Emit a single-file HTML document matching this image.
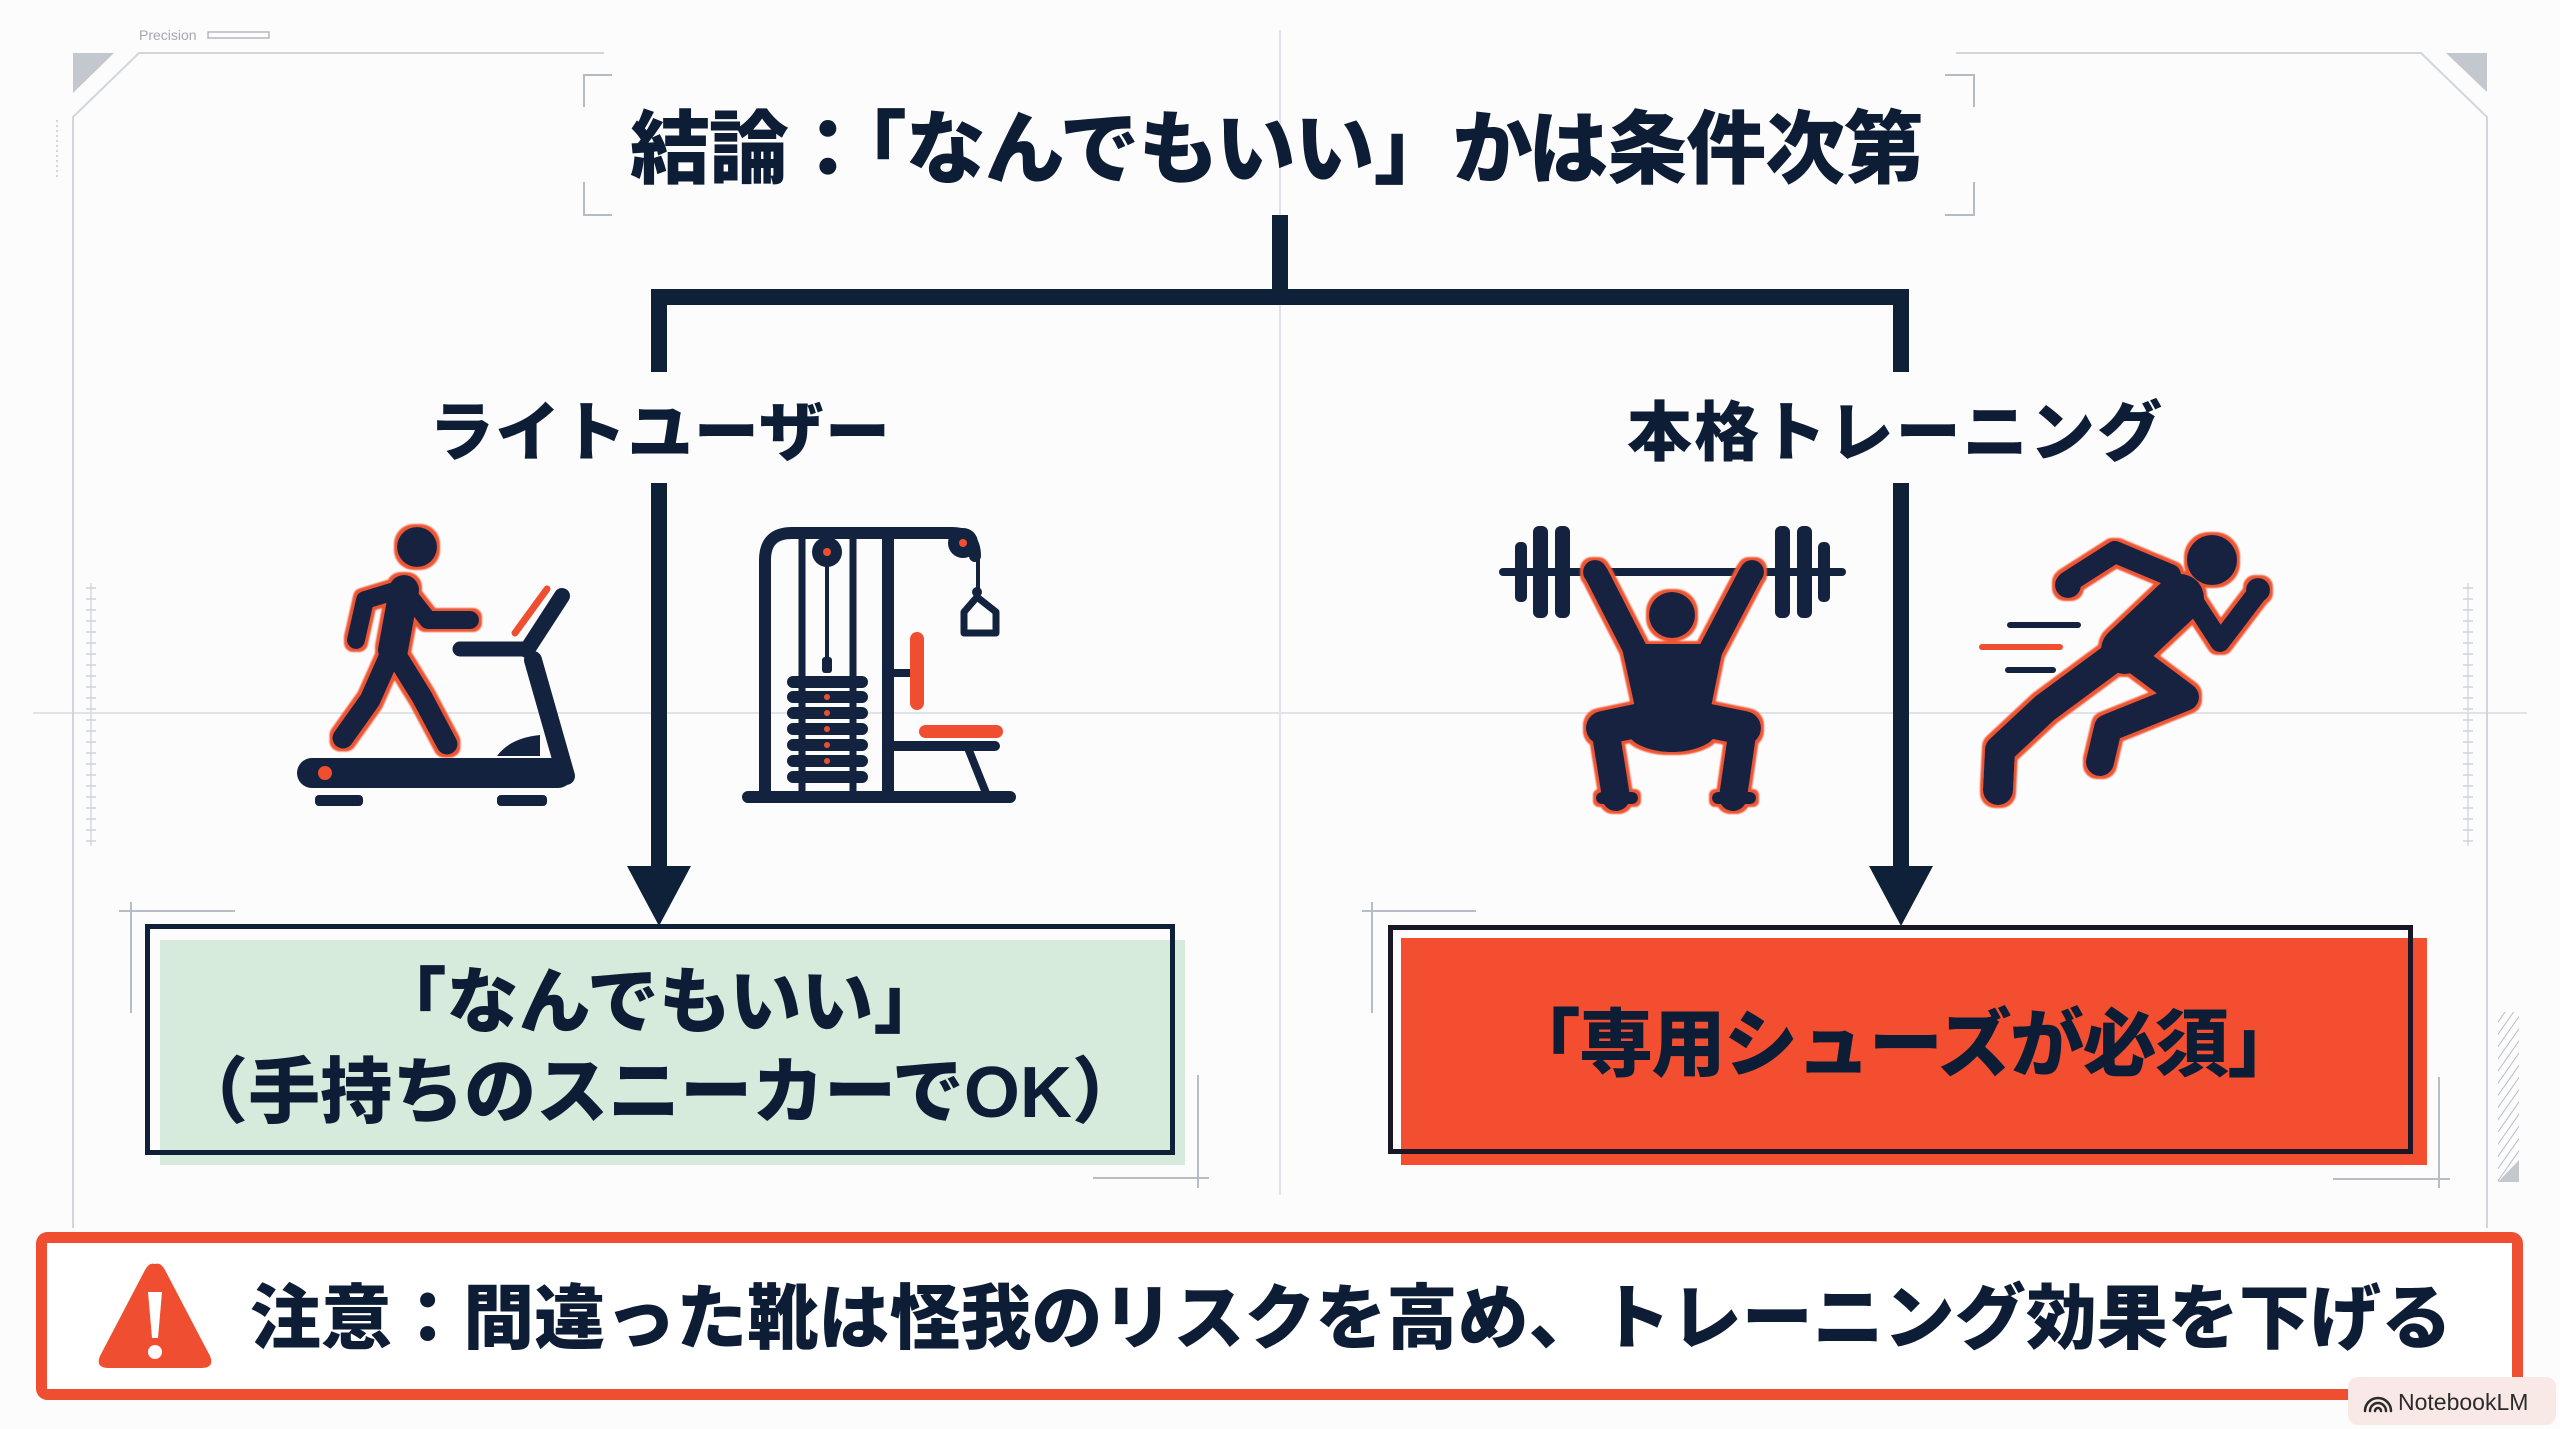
<!DOCTYPE html>
<html><head><meta charset="utf-8"><style>
html,body{margin:0;padding:0;background:#fcfcfc;}
svg{display:block;}
text{font-family:"Liberation Sans","Noto Sans CJK JP",sans-serif;font-weight:900;fill:#0e1d36;}
</style></head><body>
<svg width="2560" height="1429" viewBox="0 0 2560 1429" xmlns="http://www.w3.org/2000/svg">
<defs>
<filter id="ol" x="-20%" y="-20%" width="140%" height="140%">
<feMorphology in="SourceAlpha" operator="dilate" radius="3" result="d"/>
<feFlood flood-color="#ee5433"/>
<feComposite in2="d" operator="in" result="o"/>
<feGaussianBlur in="o" stdDeviation="0.8" result="ob"/>
<feMerge><feMergeNode in="ob"/><feMergeNode in="SourceGraphic"/></feMerge>
</filter>
<pattern id="tick" width="10" height="11" patternUnits="userSpaceOnUse"><line x1="0" y1="5" x2="10" y2="5" stroke="#cfd3d9" stroke-width="1.5"/></pattern>
<pattern id="hatch" width="7" height="7" patternUnits="userSpaceOnUse" patternTransform="rotate(35)"><line x1="0" y1="0" x2="0" y2="7" stroke="#b9bec5" stroke-width="2"/></pattern>
</defs>
<rect width="2560" height="1429" fill="#fcfcfc"/>

<!-- faint guides -->
<g stroke="#e0e3e7" stroke-width="2" fill="none">
<line x1="33" y1="713" x2="2527" y2="713"/>
<line x1="1280" y1="30" x2="1280" y2="1195"/>
</g>
<!-- frame -->
<g stroke="#d2d6db" stroke-width="2" fill="none">
<polyline points="604,53 139,53 73,117 73,1228"/>
<polyline points="1956,53 2421,53 2487,117 2487,1228"/>
<line x1="57" y1="120" x2="57" y2="178" stroke-dasharray="2 3"/>
</g>
<polygon points="73,53 114,53 73,93" fill="#c3c8cf"/>
<polygon points="2446,53 2487,53 2487,92" fill="#c3c8cf"/>
<text x="139" y="40" style="font-size:14px;font-weight:400;fill:#a3a9b1">Precision</text>
<rect x="208" y="32" width="61" height="6" fill="none" stroke="#b4b9bf" stroke-width="1.5"/>

<!-- rulers -->
<line x1="91" y1="583" x2="91" y2="846" stroke="#d5d9de" stroke-width="1.5"/>
<rect x="86" y="583" width="10" height="263" fill="url(#tick)"/>
<line x1="2468" y1="583" x2="2468" y2="846" stroke="#d5d9de" stroke-width="1.5"/>
<rect x="2463" y="583" width="10" height="263" fill="url(#tick)"/>

<!-- hatch -->
<rect x="2498" y="1012" width="21" height="170" fill="url(#hatch)"/>
<polygon points="2498,1182 2519,1182 2519,1160" fill="#c3c8cf"/>

<!-- title brackets -->
<path d="M612,75 H584 V107 M584,182 V215 H612 M1945,75 H1974 V107 M1974,182 V215 H1945" stroke="#b5bbc3" stroke-width="2" fill="none"/>

<!-- title -->
<text x="630" y="177" style="font-size:80px" textLength="1294" lengthAdjust="spacing">結論：「なんでもいい」かは条件次第</text>

<!-- connectors -->
<g stroke="#0f2039" stroke-width="16" fill="none">
<path d="M1280,215 V297"/>
<path d="M659,372 V297 H1901 V372"/>
<path d="M659,483 V872"/>
<path d="M1901,483 V872"/>
</g>
<polygon points="627,866 691,866 659,926" fill="#0f2039"/>
<polygon points="1869,866 1933,866 1901,926" fill="#0f2039"/>

<!-- labels -->
<text x="429" y="455" style="font-size:65px" textLength="461" lengthAdjust="spacing">ライトユーザー</text>
<text x="1627" y="455" style="font-size:65px" textLength="535" lengthAdjust="spacing">本格トレーニング</text>

<!-- treadmill icon -->
<g fill="#13233f" stroke="#13233f" stroke-linecap="round" stroke-linejoin="round">
<g filter="url(#ol)">
<circle cx="417" cy="547" r="20" stroke="none"/>
<path d="M404,590 L393,650" stroke-width="30" fill="none"/>
<path d="M398,590 L365,600 L356,640" stroke-width="18" fill="none"/>
<path d="M406,592 L428,620 L470,620" stroke-width="18" fill="none"/>
<path d="M390,655 L370,700 L343,738" stroke-width="21" fill="none"/>
<path d="M396,655 L422,697 L447,744" stroke-width="21" fill="none"/>
</g>
<rect x="297" y="758" width="276" height="30" rx="15" stroke="none"/>
<path d="M533,660 L566,776" stroke-width="18" fill="none"/>
<path d="M460,649 L527,649" stroke-width="15" fill="none"/>
<path d="M527,650 L562,596" stroke-width="16" fill="none"/>
<path d="M515,633 L547,589" stroke="#f04e30" stroke-width="7" fill="none"/>
<path d="M497,756 Q510,738 540,735 L540,756 Z" stroke="none"/>
<circle cx="325" cy="773" r="7" fill="#f04e30" stroke="none"/>
<rect x="315" y="795" width="48" height="11" rx="4" stroke="none"/>
<rect x="497" y="795" width="50" height="11" rx="4" stroke="none"/>
</g>

<!-- cable machine icon -->
<g fill="none" stroke="#13233f" stroke-linecap="round" stroke-linejoin="round">
<path d="M765,795 V560 Q765,533 792,533 H952 Q975,533 975,556" stroke-width="12"/>
<line x1="802" y1="538" x2="802" y2="793" stroke-width="7"/>
<line x1="853" y1="538" x2="853" y2="793" stroke-width="7"/>
<line x1="888" y1="538" x2="888" y2="795" stroke-width="12"/>
<line x1="827" y1="552" x2="827" y2="662" stroke-width="4"/>
<line x1="978" y1="548" x2="978" y2="590" stroke-width="4"/>
<path d="M977,597 L964,612 V633 H996 V612 Z" stroke-width="7"/>
<line x1="888" y1="673" x2="910" y2="673" stroke-width="8"/>
<line x1="888" y1="746" x2="995" y2="746" stroke-width="10"/>
<line x1="968" y1="748" x2="986" y2="793" stroke-width="8"/>
<line x1="748" y1="797" x2="1010" y2="797" stroke-width="12"/>
</g>
<g fill="#13233f">
<circle cx="827" cy="552" r="15"/>
<circle cx="963" cy="543" r="15"/>
<rect x="822" y="657" width="10" height="16" rx="3"/>
<circle cx="977" cy="592" r="5"/>
<rect x="787" y="676" width="81" height="12" rx="6"/>
<rect x="787" y="691" width="81" height="12" rx="6"/>
<rect x="787" y="707" width="81" height="12" rx="6"/>
<rect x="787" y="723" width="81" height="12" rx="6"/>
<rect x="787" y="739" width="81" height="12" rx="6"/>
<rect x="787" y="755" width="81" height="12" rx="6"/>
<rect x="787" y="771" width="81" height="12" rx="6"/>
</g>
<g fill="#f04e30">
<circle cx="827" cy="552" r="4"/>
<circle cx="963" cy="543" r="4"/>
<circle cx="827" cy="697" r="3"/>
<circle cx="827" cy="713" r="3"/>
<circle cx="827" cy="729" r="3"/>
<circle cx="827" cy="745" r="3"/>
<circle cx="827" cy="761" r="3"/>
<rect x="910" y="632" width="14" height="78" rx="7"/>
<rect x="919" y="725" width="84" height="13" rx="6.5"/>
</g>

<!-- weightlifter icon -->
<g fill="#13233f" stroke="#13233f" stroke-linecap="round" stroke-linejoin="round">
<line x1="1503" y1="572" x2="1842" y2="572" stroke-width="8"/>
<rect x="1515" y="542" width="12" height="60" rx="5" stroke="none"/>
<rect x="1533" y="526" width="15" height="92" rx="6" stroke="none"/>
<rect x="1555" y="526" width="15" height="92" rx="6" stroke="none"/>
<rect x="1775" y="526" width="15" height="92" rx="6" stroke="none"/>
<rect x="1797" y="526" width="15" height="92" rx="6" stroke="none"/>
<rect x="1818" y="542" width="12" height="60" rx="5" stroke="none"/>
<g filter="url(#ol)">
<circle cx="1595" cy="572" r="12" stroke="none"/>
<circle cx="1752" cy="572" r="12" stroke="none"/>
<path d="M1597,575 L1638,655" stroke-width="24" fill="none"/>
<path d="M1750,575 L1708,655" stroke-width="24" fill="none"/>
<circle cx="1672" cy="615" r="23" stroke="none"/>
<polygon points="1626,648 1719,648 1706,712 1640,712" stroke-width="8"/>
<ellipse cx="1672" cy="730" rx="45" ry="22" stroke="none"/>
<path d="M1650,718 L1603,728" stroke-width="34" fill="none"/>
<path d="M1695,718 L1744,728" stroke-width="34" fill="none"/>
<path d="M1605,728 L1616,797" stroke-width="28" fill="none"/>
<path d="M1743,728 L1733,797" stroke-width="28" fill="none"/>
<path d="M1602,798 H1632" stroke-width="12" fill="none"/>
<path d="M1718,798 H1750" stroke-width="12" fill="none"/>
</g>
</g>

<!-- runner icon -->
<g stroke-linecap="round" stroke-linejoin="round" fill="none">
<line x1="2010" y1="625" x2="2078" y2="625" stroke="#13233f" stroke-width="6"/>
<line x1="1982" y1="647" x2="2060" y2="647" stroke="#f04e30" stroke-width="6"/>
<line x1="2008" y1="670" x2="2053" y2="670" stroke="#13233f" stroke-width="6"/>
</g>
<g fill="#13233f" stroke="#13233f" stroke-linecap="round" stroke-linejoin="round" filter="url(#ol)">
<circle cx="2212" cy="560" r="25" stroke="none"/>
<path d="M2180,598 L2125,650" stroke-width="48" fill="none"/>
<path d="M2170,575 L2115,552 L2068,582" stroke-width="22" fill="none"/>
<circle cx="2068" cy="585" r="13" stroke="none"/>
<path d="M2196,605 L2220,642 L2258,592" stroke-width="20" fill="none"/>
<circle cx="2258" cy="590" r="12" stroke="none"/>
<path d="M2125,652 L2185,697 L2108,728 L2100,762" stroke-width="28" fill="none"/>
<path d="M2110,660 L2045,708 L2000,750 L1998,790" stroke-width="30" fill="none"/>
</g>

<!-- crosshair marks -->
<g stroke="#b8bdc4" stroke-width="2" fill="none">
<path d="M119,911 H235 M131,902 V1013"/>
<path d="M1093,1178 H1209 M1198,1075 V1188"/>
<path d="M1362,911 H1476 M1372,902 V1013"/>
<path d="M2333,1179 H2450 M2439,1077 V1188"/>
</g>

<!-- green box -->
<rect x="160" y="940" width="1025" height="225" fill="#d6ebdb"/>
<rect x="147.5" y="926.5" width="1025" height="226" fill="none" stroke="#0f2039" stroke-width="5"/>
<text x="660" y="1027" text-anchor="middle" style="font-size:72px">「なんでもいい」</text>
<text x="660" y="1117" text-anchor="middle" style="font-size:72px">（手持ちのスニーカーでOK）</text>

<!-- red box -->
<rect x="1401" y="938" width="1026" height="227" fill="#f44e31"/>
<rect x="1390.5" y="927.5" width="1020" height="224" fill="none" stroke="#1a1626" stroke-width="5"/>
<text x="1904" y="1070" text-anchor="middle" style="font-size:74px" textLength="795" lengthAdjust="spacing">「専用シューズが必須」</text>

<!-- warning bar -->
<rect x="41.5" y="1237.5" width="2476" height="157" rx="6" fill="#ffffff" stroke="#f04e30" stroke-width="11"/>
<path d="M155,1264 Q149,1262 145,1270 L100,1356 Q95,1368 109,1368 L201,1368 Q215,1368 210,1356 L165,1270 Q161,1262 155,1264 Z" fill="#f04e30"/>
<path d="M148,1292 L162,1292 L158,1338 L152,1338 Z" fill="#ffffff"/>
<circle cx="155" cy="1352" r="7" fill="#ffffff"/>
<text x="250" y="1343" style="font-size:71px" textLength="2202" lengthAdjust="spacing">注意：間違った靴は怪我のリスクを高め、トレーニング効果を下げる</text>

<!-- badge -->
<rect x="2348" y="1377" width="208" height="48" rx="10" fill="#f8e9e6"/>
<g fill="none" stroke="#2b2b2b" stroke-width="2.5" stroke-linecap="round">
<path d="M2365,1411 A13,13 0 0 1 2391,1411"/>
<path d="M2370,1411 A8,8 0 0 1 2386,1411"/>
<path d="M2375,1411 A3,3 0 0 1 2381,1411"/>
</g>
<text x="2398" y="1410" style="font-size:23px;font-weight:400;fill:#2b2b2b">NotebookLM</text>
</svg>
</body></html>
